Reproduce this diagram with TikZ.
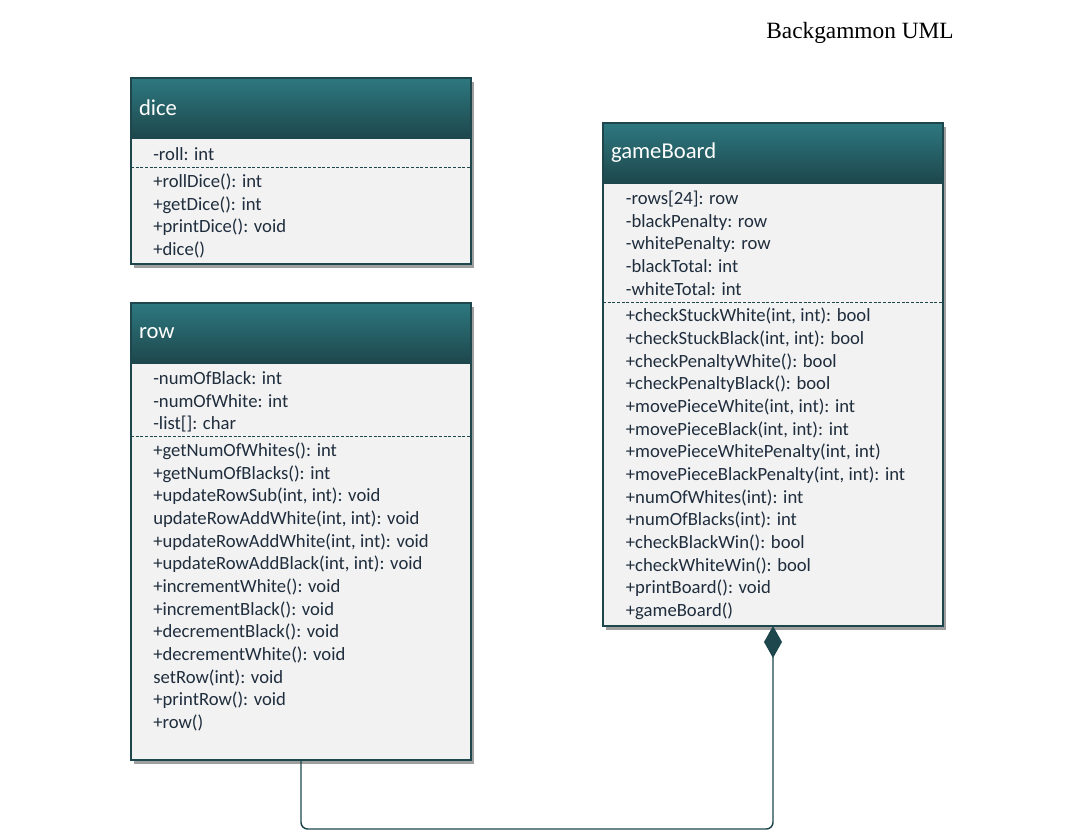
\documentclass[tikz,border=0pt]{standalone}
\usepackage{fontspec}
\setmainfont{Carlito}
\newfontfamily\titlefont{Liberation Serif}
\usepackage{xcolor}
\usetikzlibrary{positioning,shadows,arrows.meta}
\definecolor{umlteal}{HTML}{2E7880}
\definecolor{umldark}{HTML}{1D474C}
\definecolor{umlbody}{HTML}{F2F2F2}
\definecolor{umltext}{HTML}{1F2D3D}
\tikzset{
  umlshadow/.style={drop shadow={shadow xshift=2.5pt,shadow yshift=-3pt,opacity=0.5,fill=black!75}},
  classhead/.style={draw=umldark,line width=1.1pt,top color=umlteal,bottom color=umldark,
    text=white,font=\fontsize{17}{20}\selectfont,anchor=north west,outer sep=0pt,
    inner xsep=6pt,text width=243pt,minimum height=45pt,align=left,umlshadow},
  classbody/.style={draw=umldark,line width=1.1pt,fill=umlbody,outer sep=0pt,
    minimum width=255pt,umlshadow},
  members/.style={inner sep=0pt,align=left,text=umltext,font=\fontsize{14}{17}\selectfont},
  sep/.style={draw=umldark,line width=0.9pt,dash pattern=on 2.2pt off 1.3pt},
  conn/.style={draw=umldark,line width=1.1pt,rounded corners=5pt}
}
\begin{document}
\begin{tikzpicture}[x=0.75pt,y=-0.75pt]
  \useasboundingbox (0,0) rectangle (1071,839);
  \node[font=\titlefont\fontsize{17.5}{20}\selectfont] (title) at (860,33) {Backgammon UML};

  \node[classhead] (dice) at (131,78) {dice};
  \node[classbody,minimum height=94.5pt,below=0pt of dice] (dicebody) {};
  \node[members,below right=4.5pt and 16.5pt of dicebody.north west] (diceattr)
    {\strut-roll: int\strut};
  \node[members,below right=3pt and 0pt of diceattr.south west] (diceops)
    {\strut+rollDice(): int\\ +getDice(): int\\ +printDice(): void\\ +dice()\strut};
  \draw[sep] (diceattr.south -| dicebody.west) -- (diceattr.south -| dicebody.east);

  \node[classhead] (row) at (131,303) {row};
  \node[classbody,minimum height=297.75pt,below=0pt of row] (rowbody) {};
  \node[members,below right=4pt and 16.5pt of rowbody.north west] (rowattr)
    {\strut-numOfBlack: int\\ -numOfWhite: int\\ -list[]: char\strut};
  \node[members,below right=2.5pt and 0pt of rowattr.south west] (rowops)
    {\strut+getNumOfWhites(): int\\ +getNumOfBlacks(): int\\ +updateRowSub(int, int): void\\
     updateRowAddWhite(int, int): void\\ +updateRowAddWhite(int, int): void\\
     +updateRowAddBlack(int, int): void\\ +incrementWhite(): void\\ +incrementBlack(): void\\
     +decrementBlack(): void\\ +decrementWhite(): void\\ setRow(int): void\\
     +printRow(): void\\ +row()\strut};
  \draw[sep] (rowattr.south -| rowbody.west) -- (rowattr.south -| rowbody.east);

  \node[classhead] (board) at (603,123) {gameBoard};
  \node[classbody,minimum height=332.25pt,below=0pt of board] (boardbody) {};
  \node[members,below right=4pt and 17pt of boardbody.north west] (boardattr)
    {\strut-rows[24]: row\\ -blackPenalty: row\\ -whitePenalty: row\\ -blackTotal: int\\ -whiteTotal: int\strut};
  \node[members,below right=2.5pt and 0pt of boardattr.south west] (boardops)
    {\strut+checkStuckWhite(int, int): bool\\ +checkStuckBlack(int, int): bool\\
     +checkPenaltyWhite(): bool\\ +checkPenaltyBlack(): bool\\ +movePieceWhite(int, int): int\\
     +movePieceBlack(int, int): int\\ +movePieceWhitePenalty(int, int)\\
     +movePieceBlackPenalty(int, int): int\\ +numOfWhites(int): int\\ +numOfBlacks(int): int\\
     +checkBlackWin(): bool\\ +checkWhiteWin(): bool\\ +printBoard(): void\\ +gameBoard()\strut};
  \draw[sep] (boardattr.south -| boardbody.west) -- (boardattr.south -| boardbody.east);

  \draw[conn,-{Diamond[length=24pt,width=13.5pt,fill=umldark]}] (rowbody.south) -- ++(0,69) -| (boardbody.south);
\end{tikzpicture}
\end{document}
